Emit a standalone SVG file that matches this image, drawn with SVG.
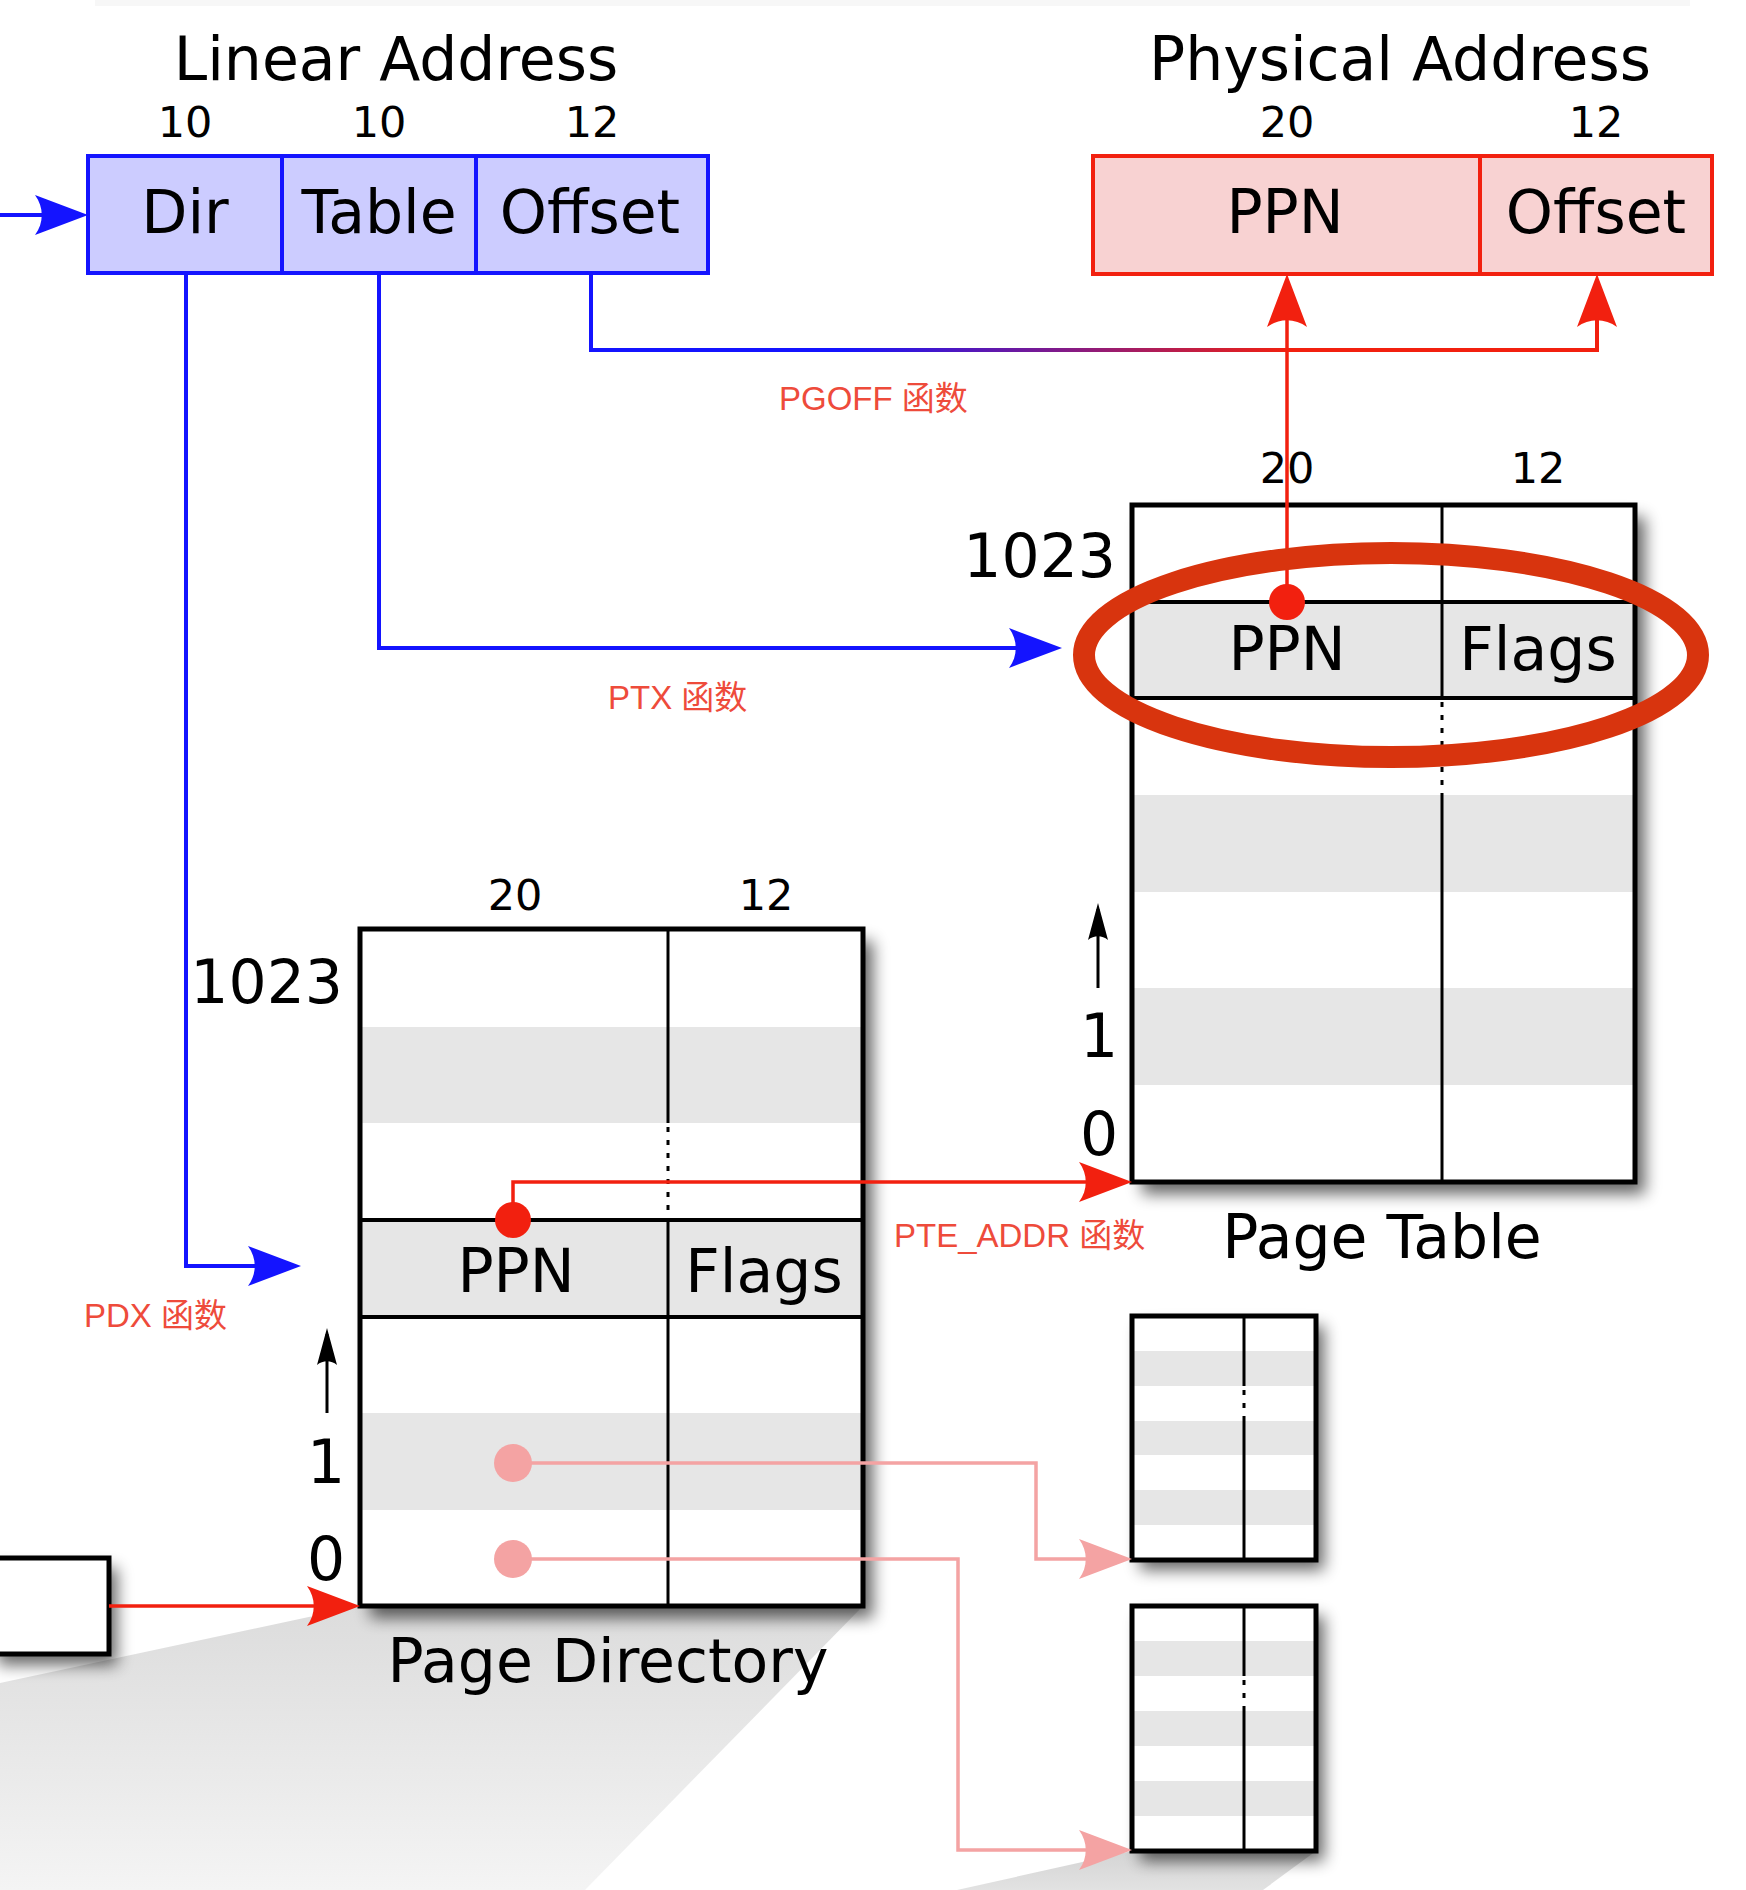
<svg xmlns="http://www.w3.org/2000/svg" width="1746" height="1890" viewBox="0 0 1746 1890">
<style>
.t{font-family:"DejaVu Sans","Liberation Sans",sans-serif;fill:#000;text-anchor:middle}
.big{font-size:60px}
.lbl{font-size:60px}
.num{font-size:43px}
.fn{font-family:"Liberation Sans","Noto Sans CJK SC",sans-serif;font-size:33px;fill:#ee4b3b}
.blue{fill:none;stroke:#1414ff;stroke-width:4}
.red{fill:none;stroke:#f2200f;stroke-width:3.5}
.pink{fill:none;stroke:#f4a3a3;stroke-width:3.5}
.blk{fill:none;stroke:#000;stroke-width:3}
.box{fill:none;stroke:#000;stroke-width:5}
.row{fill:#e6e6e6}
.hl{stroke:#000;stroke-width:4}
.div{stroke:#000;stroke-width:3}
.dot{stroke:#000;stroke-width:3;stroke-dasharray:5 8}
.shd{fill:#000;opacity:0.6;filter:url(#blur)}
</style>
<defs>
<filter id="blur" x="-30%" y="-30%" width="160%" height="160%"><feGaussianBlur stdDeviation="8"/></filter>
<linearGradient id="offg" gradientUnits="userSpaceOnUse" x1="840" y1="0" x2="1290" y2="0">
<stop offset="0" stop-color="#1414ff"/><stop offset="1" stop-color="#f2200f"/>
</linearGradient>
<linearGradient id="fan" x1="0" y1="0" x2="0" y2="1">
<stop offset="0" stop-color="#dcdcdc"/><stop offset="1" stop-color="#f4f4f4"/>
</linearGradient>
<linearGradient id="fan2" x1="0" y1="0" x2="0" y2="1">
<stop offset="0" stop-color="#d4d4d4"/><stop offset="1" stop-color="#e2e2e2"/>
</linearGradient>
<marker id="aB" viewBox="0 0 53 40" markerWidth="53" markerHeight="40" refX="45" refY="20" orient="auto" markerUnits="userSpaceOnUse"><path d="M0,0 L53,20 L0,40 C9,28 9,12 0,0 Z" fill="#1414ff"/></marker>
<marker id="aR" viewBox="0 0 53 40" markerWidth="53" markerHeight="40" refX="45" refY="20" orient="auto" markerUnits="userSpaceOnUse"><path d="M0,0 L53,20 L0,40 C9,28 9,12 0,0 Z" fill="#f2200f"/></marker>
<marker id="aP" viewBox="0 0 53 40" markerWidth="53" markerHeight="40" refX="45" refY="20" orient="auto" markerUnits="userSpaceOnUse"><path d="M0,0 L53,20 L0,40 C9,28 9,12 0,0 Z" fill="#f4a3a3"/></marker>
<marker id="aK" viewBox="0 0 37 20" markerWidth="37" markerHeight="20" refX="31" refY="10" orient="auto" markerUnits="userSpaceOnUse"><path d="M0,0 L37,10 L0,20 C5,14 5,6 0,0 Z" fill="#000"/></marker>
</defs>
<rect width="1746" height="1890" fill="#fff"/>
<rect x="95" y="0" width="1595" height="6" fill="#f7f7f7"/>
<g id="fans">
<polygon points="360,1606 863,1606 585,1890 0,1890 0,1683" fill="url(#fan)"/>
<polygon points="1132,1851 1316,1851 1263,1890 957,1890" fill="url(#fan2)"/>
</g>

<g id="linear-address">
<text class="t big" x="396" y="80">Linear Address</text>
<text class="t num" x="185" y="137">10</text>
<text class="t num" x="379" y="137">10</text>
<text class="t num" x="592" y="137">12</text>
<rect x="88" y="156" width="620" height="117" fill="#ccccff" stroke="#1414ff" stroke-width="4"/>
<line x1="282" y1="156" x2="282" y2="273" stroke="#1414ff" stroke-width="4"/>
<line x1="476" y1="156" x2="476" y2="273" stroke="#1414ff" stroke-width="4"/>
<text class="t lbl" x="185" y="233">Dir</text>
<text class="t lbl" x="379" y="233">Table</text>
<text class="t lbl" x="590" y="233">Offset</text>
</g>

<g id="physical-address">
<text class="t big" x="1400" y="80">Physical Address</text>
<text class="t num" x="1287" y="137">20</text>
<text class="t num" x="1596" y="137">12</text>
<rect x="1093" y="156" width="619" height="118" fill="#f8d2d2" stroke="#f2200f" stroke-width="4"/>
<line x1="1480" y1="156" x2="1480" y2="274" stroke="#f2200f" stroke-width="4"/>
<text class="t lbl" x="1285" y="233">PPN</text>
<text class="t lbl" x="1596" y="233">Offset</text>
</g>

<g id="page-table">
<rect class="shd" x="1142" y="517" width="503" height="677"/>
<rect x="1132" y="505" width="503" height="677" fill="#fff"/>
<rect class="row" x="1132" y="602" width="503" height="96"/>
<rect class="row" x="1132" y="795" width="503" height="97"/>
<rect class="row" x="1132" y="988" width="503" height="97"/>
<line class="div" x1="1442" y1="505" x2="1442" y2="698"/>
<line class="dot" x1="1442" y1="702" x2="1442" y2="795"/>
<line class="div" x1="1442" y1="795" x2="1442" y2="1182"/>
<line class="hl" x1="1132" y1="602" x2="1635" y2="602"/>
<line class="hl" x1="1132" y1="698" x2="1635" y2="698"/>
<rect class="box" x="1132" y="505" width="503" height="677"/>
<text class="t num" x="1287" y="483">20</text>
<text class="t num" x="1538" y="483">12</text>
<text class="t lbl" x="1116" y="577" style="text-anchor:end">1023</text>
<text class="t lbl" x="1287" y="670">PPN</text>
<text class="t lbl" x="1538" y="670">Flags</text>
<text class="t lbl" x="1099" y="1057">1</text>
<text class="t lbl" x="1099" y="1155">0</text>
<text class="t lbl" x="1382" y="1258">Page Table</text>
</g>

<g id="page-directory">
<rect class="shd" x="370" y="941" width="503" height="677"/>
<rect x="360" y="929" width="503" height="677" fill="#fff"/>
<rect class="row" x="360" y="1027" width="503" height="96"/>
<rect class="row" x="360" y="1220" width="503" height="97"/>
<rect class="row" x="360" y="1413" width="503" height="97"/>
<line class="div" x1="668" y1="929" x2="668" y2="1123"/>
<line class="dot" x1="668" y1="1127" x2="668" y2="1220"/>
<line class="div" x1="668" y1="1220" x2="668" y2="1606"/>
<line class="hl" x1="360" y1="1220" x2="863" y2="1220"/>
<line class="hl" x1="360" y1="1317" x2="863" y2="1317"/>
<rect class="box" x="360" y="929" width="503" height="677"/>
<text class="t num" x="515" y="910">20</text>
<text class="t num" x="766" y="910">12</text>
<text class="t lbl" x="343" y="1003" style="text-anchor:end">1023</text>
<text class="t lbl" x="516" y="1292">PPN</text>
<text class="t lbl" x="764" y="1292">Flags</text>
<text class="t lbl" x="326" y="1483">1</text>
<text class="t lbl" x="326" y="1580">0</text>
<text class="t lbl" x="608" y="1682">Page Directory</text>
</g>

<g id="small-table-1">
<rect class="shd" x="1140" y="1326" width="184" height="244"/>
<rect x="1132" y="1316" width="184" height="244" fill="#fff"/>
<rect class="row" x="1132" y="1351" width="184" height="35"/>
<rect class="row" x="1132" y="1421" width="184" height="34"/>
<rect class="row" x="1132" y="1490" width="184" height="35"/>
<line class="div" x1="1244" y1="1316" x2="1244" y2="1386"/>
<line class="dot" x1="1244" y1="1390" x2="1244" y2="1421"/>
<line class="div" x1="1244" y1="1421" x2="1244" y2="1560"/>
<rect class="box" x="1132" y="1316" width="184" height="244"/>
</g>

<g id="small-table-2">
<rect class="shd" x="1140" y="1616" width="184" height="245"/>
<rect x="1132" y="1606" width="184" height="245" fill="#fff"/>
<rect class="row" x="1132" y="1641" width="184" height="35"/>
<rect class="row" x="1132" y="1711" width="184" height="35"/>
<rect class="row" x="1132" y="1781" width="184" height="35"/>
<line class="div" x1="1244" y1="1606" x2="1244" y2="1676"/>
<line class="dot" x1="1244" y1="1680" x2="1244" y2="1711"/>
<line class="div" x1="1244" y1="1711" x2="1244" y2="1851"/>
<rect class="box" x="1132" y="1606" width="184" height="245"/>
</g>

<g id="cr3-box">
<rect class="shd" x="-2" y="1568" width="119" height="97"/>
<rect x="-5" y="1558" width="114" height="96" fill="#fff" stroke="#000" stroke-width="5"/>
</g>

<g id="connectors">
<line class="blue" x1="0" y1="215" x2="80" y2="215" marker-end="url(#aB)"/>
<path class="blue" d="M186,273 V1266 H293" marker-end="url(#aB)"/>
<path class="blue" d="M379,273 V648 H1054" marker-end="url(#aB)"/>
<path d="M591,273 V350 H1597 V282" fill="none" stroke="url(#offg)" stroke-width="4" marker-end="url(#aR)"/>
<path class="red" d="M1287,602 V282" marker-end="url(#aR)"/>
<path class="red" d="M513,1220 V1182 H1124" marker-end="url(#aR)"/>
<path class="pink" d="M513,1463 H1036 V1559 H1124" marker-end="url(#aP)"/>
<path class="pink" d="M513,1559 H958 V1850 H1124" marker-end="url(#aP)"/>
<path class="red" d="M109,1606 H352" marker-end="url(#aR)"/>
<path class="blk" d="M1098,988 V909" marker-end="url(#aK)"/>
<path class="blk" d="M327,1413 V1334" marker-end="url(#aK)"/>
<circle cx="1287" cy="602" r="18" fill="#f2200f"/>
<circle cx="513" cy="1220" r="18" fill="#f2200f"/>
<circle cx="513" cy="1463" r="19" fill="#f4a3a3"/>
<circle cx="513" cy="1559" r="19" fill="#f4a3a3"/>
<text class="fn" x="779" y="410">PGOFF 函数</text>
<text class="fn" x="608" y="709">PTX 函数</text>
<text class="fn" x="894" y="1247">PTE_ADDR 函数</text>
<text class="fn" x="84" y="1327">PDX 函数</text>
</g>

<g id="highlight">
<ellipse cx="1391" cy="655" rx="307" ry="102" fill="none" stroke="#d8340e" stroke-width="22"/>
</g>
</svg>
